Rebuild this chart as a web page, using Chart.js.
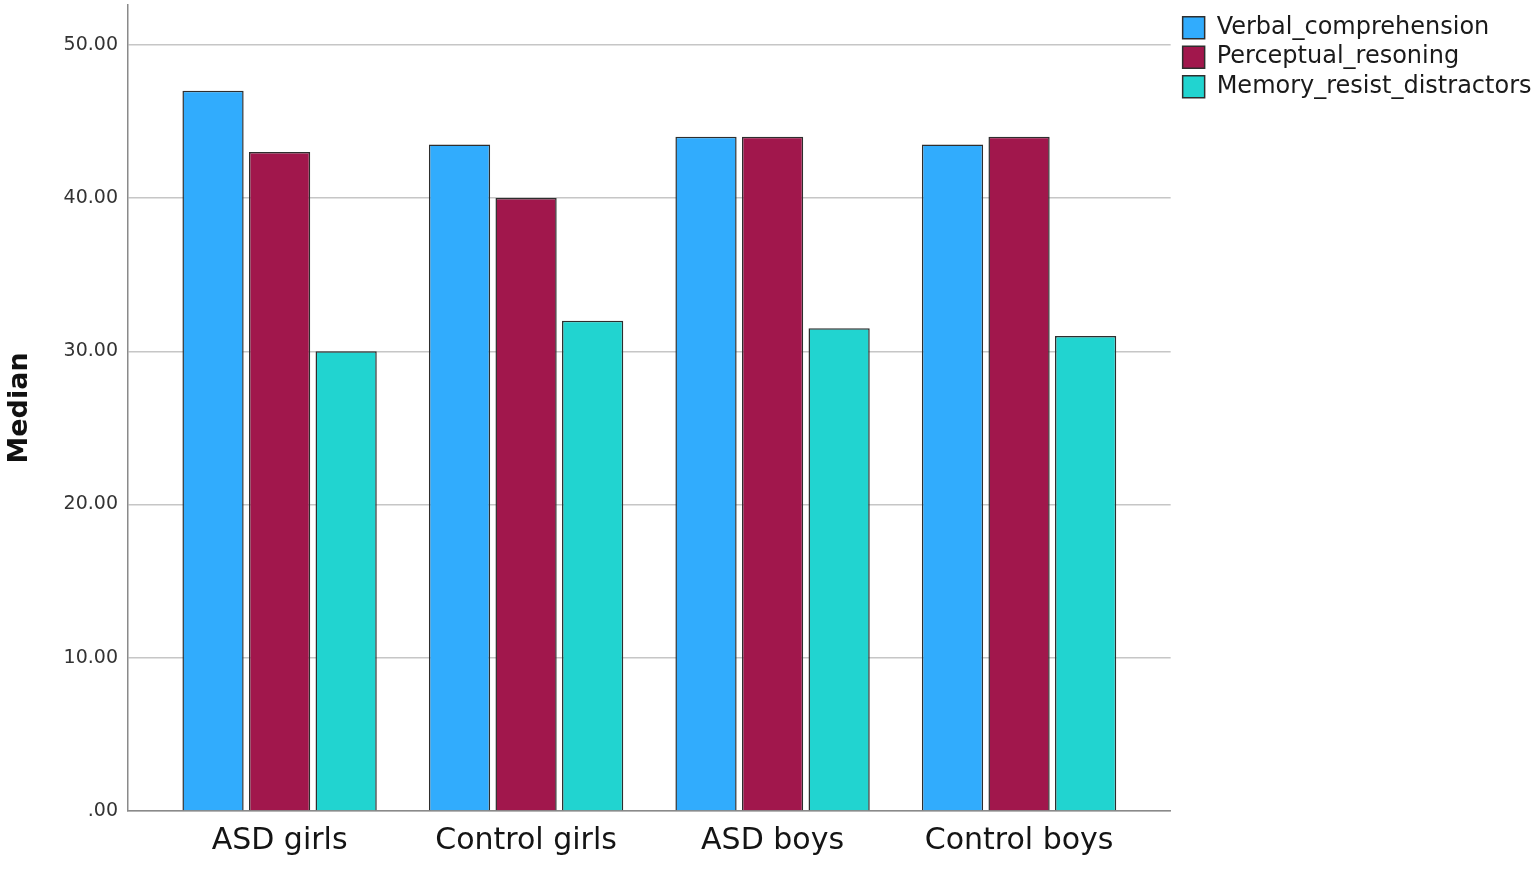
<!DOCTYPE html>
<html>
<head>
<meta charset="utf-8">
<script src="https://cdn.jsdelivr.net/npm/chart.js@4"></script>
<style>
  html, body { margin: 0; padding: 0; background: #fff; }
  #wrap { width: 1535px; height: 889px; }
</style>
</head>
<body>
<div id="wrap"><canvas id="medianChart"></canvas></div>
<script>
const groups = ["ASD girls", "Control girls", "ASD boys", "Control boys"];
const verbal = [47, 43.5, 44, 43.5];
const perceptual = [43, 40, 44, 44];
const memory = [30, 32, 31.5, 31];
const yTicks = [0, 10, 20, 30, 40, 50];

const font = "'DejaVu Sans', sans-serif";

function makeSet(label, values, color) {
  return {
    label: label,
    data: values,
    backgroundColor: color,
    borderColor: '#2e2e2e',
    borderWidth: 1.5,
    categoryPercentage: 0.81,
    barPercentage: 0.92
  };
}

// drop the label overhang chart.js reserves around the axes
function noPad(s) {
  s.paddingTop = 0;
  s.paddingBottom = 0;
  s.paddingLeft = 0;
  s.paddingRight = 0;
}

// the layout caps side boxes at a share of the width, let the legend keep its full size
const legendRoom = {
  id: 'legendRoom',
  afterInit(chart) {
    const lg = chart.legend;
    const update = lg.update;
    lg.update = function (w, h, m) {
      return update.call(this, Math.max(w, 400), h, m);
    };
  }
};

new Chart(document.getElementById('medianChart'), {
  type: 'bar',
  data: {
    labels: groups.map((g, i) => i),
    datasets: [
      makeSet('Verbal_comprehension', verbal, '#31acfd'),
      makeSet('Perceptual_resoning', perceptual, '#a1174c'),
      makeSet('Memory_resist_distractors', memory, '#21d4d0')
    ]
  },
  plugins: [legendRoom],
  options: {
    responsive: true,
    maintainAspectRatio: false,
    animation: false,
    layout: { padding: { top: 5, right: -6.5, left: 0, bottom: 0 } },
    plugins: {
      tooltip: { enabled: false },
      legend: {
        position: 'right',
        align: 'start',
        title: { display: true, text: '', font: { size: 1 }, padding: { top: 0, bottom: 4 } },
        labels: {
          font: { family: font, size: 24 },
          color: '#1a1a1a',
          boxWidth: 22,
          boxHeight: 22,
          padding: 5.5,
          useBorderRadius: false
        }
      }
    },
    scales: {
      x: {
        type: 'linear',
        min: -0.615,
        max: groups.length - 1 + 0.615,
        offset: false,
        grid: { display: false, drawTicks: false },
        border: { display: true, color: '#8a8a8a', width: 1.5 },
        afterBuildTicks: s => { s.ticks = groups.map((g, i) => ({ value: i })); },
        afterFit: s => { s.height = 78; noPad(s); },
        ticks: {
          padding: 12,
          color: '#141414',
          font: { family: font, size: 30 },
          callback: v => groups[v]
        }
      },
      y: {
        min: 0,
        max: 52.6,
        grid: { color: '#c6c6c6', lineWidth: 1.5, drawTicks: false },
        border: { display: true, color: '#8a8a8a', width: 1.5 },
        afterBuildTicks: s => { s.ticks = yTicks.map(v => ({ value: v })); },
        afterFit: s => { s.width = 128; noPad(s); },
        ticks: {
          padding: 10,
          color: '#333',
          font: { family: font, size: 19 },
          callback: v => v === 0 ? '.00' : v.toFixed(2)
        },
        title: {
          display: true,
          text: 'Median',
          color: '#111',
          font: { family: font, size: 27, weight: 'bold' },
          padding: { top: 4, bottom: 0 }
        }
      },
      // empty strip between the plot and the legend
      gap: {
        type: 'linear',
        position: 'right',
        grid: { display: false, drawTicks: false },
        border: { display: false },
        ticks: { display: false },
        afterFit: s => { s.width = 6.5; noPad(s); }
      }
    }
  }
});
</script>
</body>
</html>
